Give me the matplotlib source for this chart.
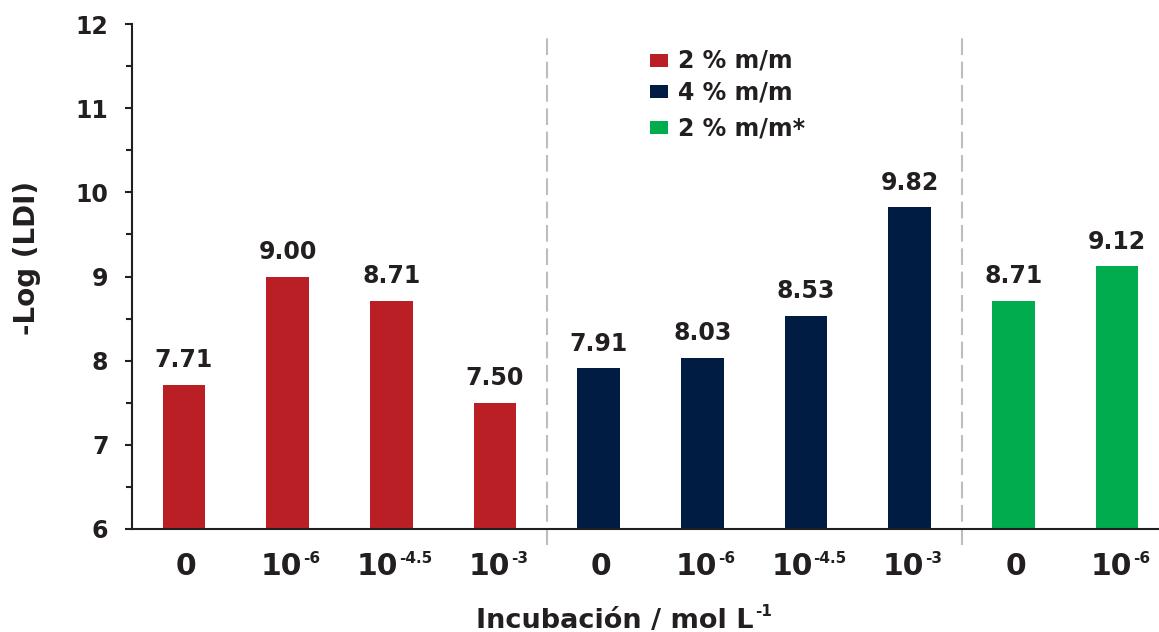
import matplotlib
matplotlib.use("Agg")
import matplotlib.pyplot as plt
from matplotlib.patches import Rectangle
from matplotlib.ticker import MultipleLocator

# Data
tick_bases = ["0", "10", "10", "10", "0", "10", "10", "10", "0", "10"]
tick_exps = ["", "-6", "-4.5", "-3", "", "-6", "-4.5", "-3", "", "-6"]
values_2pct = [7.71, 9.00, 8.71, 7.50]
values_4pct = [7.91, 8.03, 8.53, 9.82]
values_2pct_star = [8.71, 9.12]
series_names = ["2 % m/m", "4 % m/m", "2 % m/m*"]
colors = ["#BB1F26", "#001C43", "#00AC4E"]

INK = "#231F20"
W, H = 1159, 632

fig = plt.figure(figsize=(W / 100, H / 100), dpi=100)
ax = fig.add_axes([132 / W, 1 - 529 / H, (1169 - 132) / W, (529 - 24) / H])

groups = [values_2pct, values_4pct, values_2pct_star]
x0 = 0
for vals, col in zip(groups, colors):
    xs = list(range(x0, x0 + len(vals)))
    heights = [v - 6 for v in vals]
    ax.bar(xs, heights, bottom=6, width=0.41, color=col, zorder=2)
    for x, v in zip(xs, vals):
        ax.text(x, v + 0.21, f"{v:.2f}", ha="center", va="baseline",
                fontsize=17, fontweight="bold", color=INK)
    x0 += len(vals)

# Group separators
for xsep in (3.5, 7.5):
    ax.plot([xsep, xsep], [5.81, 11.87], linestyle=(0, (8, 3.2)), color="#BDBDBD",
            linewidth=1.5, clip_on=False, zorder=1)

ax.set_xlim(-0.5, 9.5)
ax.set_ylim(6, 12)
ax.set_xticks(range(10))
ax.set_xticklabels([""] * 10)
ax.tick_params(axis="x", length=0)
ax.yaxis.set_major_locator(MultipleLocator(1))
ax.yaxis.set_minor_locator(MultipleLocator(0.5))
ax.tick_params(axis="y", which="major", length=5, width=1.5, color=INK, pad=12)
ax.tick_params(axis="y", which="minor", length=4.5, width=1.5, color=INK)
for lbl in ax.get_yticklabels():
    lbl.set_fontsize(17)
    lbl.set_fontweight("bold")
    lbl.set_color(INK)

for s in ("top", "right"):
    ax.spines[s].set_visible(False)
for s in ("left", "bottom"):
    ax.spines[s].set_linewidth(1.5)
    ax.spines[s].set_color(INK)

# x tick labels: base number with a small raised exponent
fig.canvas.draw()
renderer = fig.canvas.get_renderer()
for i, (base, exp) in enumerate(zip(tick_bases, tick_exps)):
    xpix = ax.transData.transform((i, 6))[0] + 3
    tb = fig.text(0, 0, base, transform=None, ha="left", va="baseline",
                  fontsize=21.5, fontweight="bold", color=INK)
    wb = tb.get_window_extent(renderer).width
    we = 0
    te = None
    if exp:
        te = fig.text(0, 0, exp, transform=None, ha="left", va="baseline",
                      fontsize=11, fontweight="bold", color=INK)
        we = te.get_window_extent(renderer).width
    left = xpix - (wb + we + 1) / 2
    tb.set_position((left, H - 575))
    if te is not None:
        te.set_position((left + wb + 1, H - 563))

# axis titles
fig.text(27 / W, 1 - 258 / H, "-Log (LDI)", rotation=90, ha="center", va="center",
         fontsize=20, fontweight="bold", color=INK)
xl = fig.text(0, 0, "Incubación / mol L", transform=None, ha="left", va="baseline",
              fontsize=19.5, fontweight="bold", color=INK)
xe = fig.text(0, 0, "-1", transform=None, ha="left", va="baseline",
              fontsize=11, fontweight="bold", color=INK)
wl = xl.get_window_extent(renderer).width
we = xe.get_window_extent(renderer).width
left = 624 - (wl + we + 1) / 2
xl.set_position((left, H - 628))
xe.set_position((left + wl + 1, H - 616))

# legend
rows_y = [60, 91, 127]
for name, col, yc in zip(series_names, colors, rows_y):
    fig.patches.append(Rectangle((650, H - yc - 6.5), 18, 13, transform=None,
                                 facecolor=col, edgecolor="none"))
    fig.text(678, H - yc - 8, name, transform=None, ha="left", va="baseline",
             fontsize=17, fontweight="bold", color=INK)

fig.savefig("out.png", dpi=100)
